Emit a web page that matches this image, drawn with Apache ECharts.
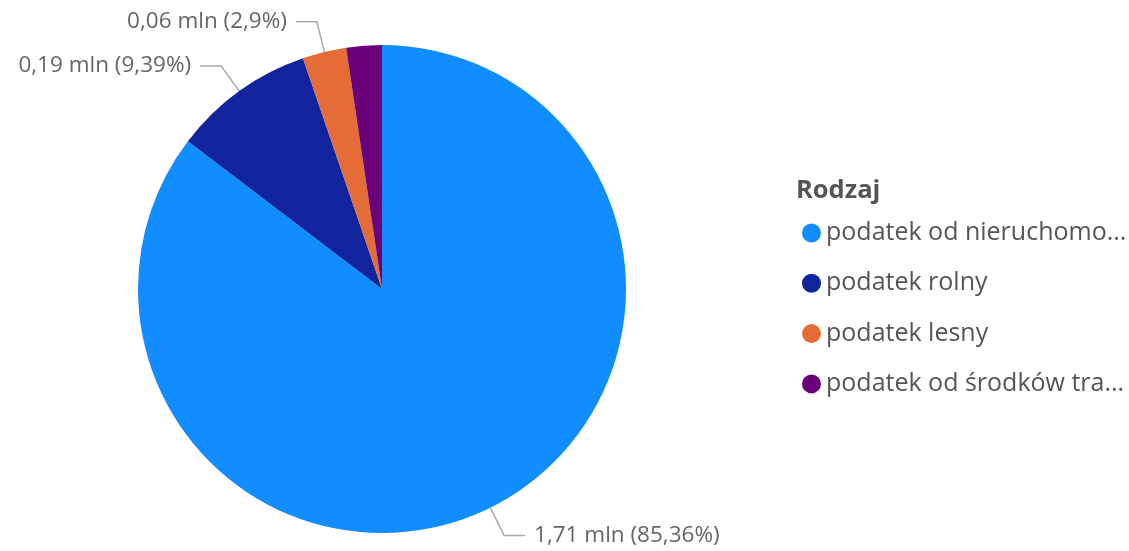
<!DOCTYPE html>
<html><head><meta charset="utf-8">
<script src="https://cdn.jsdelivr.net/npm/echarts@6/dist/echarts.min.js"></script>
<style>html,body{margin:0;padding:0;background:#fff}#c{width:1129px;height:551px}</style>
</head><body><div id="c"></div>
<script>
const categories = ["podatek od nieruchomości","podatek rolny","podatek lesny","podatek od środków transportowych"];
const legendLabels = ["podatek od nieruchomo...","podatek rolny","podatek lesny","podatek od środków tra..."];
const sharePct = [85.36, 9.39, 2.9, 2.35];
const valueMln = ["1,71", "0,19", "0,06", "0,05"];
const pctLabels = ["85,36%", "9,39%", "2,9%", "2,35%"];
const showLabel = [true, true, true, false];
const colors = ["#118DFF", "#12239E", "#E66C37", "#6B007B"];
const legendTitle = "Rodzaj";

const FONT = '"Open Sans", sans-serif';
const chart = echarts.init(document.getElementById('c'));
chart.setOption({
  animation: false,
  color: colors,
  title: {
    text: legendTitle, left: 791, top: 173,
    textStyle: {fontFamily: FONT, fontSize: 25.5, fontWeight: 'bold', color: '#555'}
  },
  legend: {
    orient: 'vertical', left: 797, top: 213,
    icon: 'circle', itemWidth: 19, itemHeight: 19, itemGap: 20.3,
    data: categories,
    formatter: n => legendLabels[categories.indexOf(n)],
    textStyle: {fontFamily: FONT, fontSize: 25, color: '#555', lineHeight: 30}
  },
  series: [{
    type: 'pie',
    center: [382, 289], radius: 244,
    startAngle: 90, clockwise: true,
    avoidLabelOverlap: false,
    label: {
      show: true, position: 'outside', distanceToLabelLine: 9,
      fontFamily: FONT, fontSize: 22.5, color: '#666', padding: [6, 0, 0, 0],
      formatter: p => valueMln[p.dataIndex] + ' mln (' + pctLabels[p.dataIndex] + ')'
    },
    labelLine: {show: true, length: 31, length2: 21, lineStyle: {color: '#aaa', width: 1.5}},
    emphasis: {disabled: true},
    data: categories.map((c, i) => ({
      name: c, value: sharePct[i],
      label: {show: showLabel[i]}, labelLine: {show: showLabel[i]}
    }))
  }]
});
</script></body></html>
